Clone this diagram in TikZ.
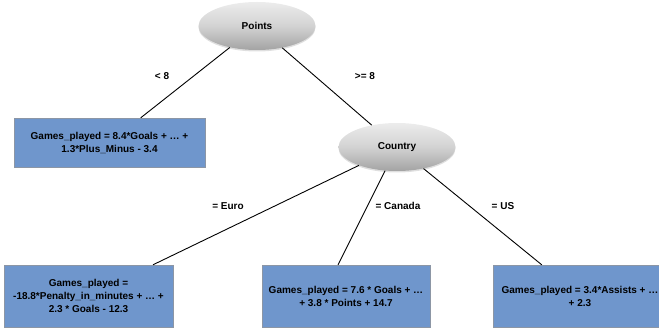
\documentclass[tikz,border=0pt]{standalone}
\usepackage{fontspec}
\setmainfont{Liberation Sans}
\usepackage{xcolor}
\usepackage{tikz}
\usetikzlibrary{shapes.geometric,shadows}
\definecolor{leafblue}{RGB}{111, 150, 204}
\definecolor{leafedge}{RGB}{140, 150, 165}

\begin{document}
\begin{tikzpicture}[x=1pt, y=-1pt,
  font=\bfseries\fontsize{10}{13}\selectfont,
  split/.style={ellipse, minimum width=117pt, minimum height=48pt, inner sep=0pt,
    top color=gray!15, bottom color=gray!72, middle color=gray!35,
    drop shadow={opacity=0.25, shadow xshift=0pt, shadow yshift=-1.5pt}},
  leaf/.style={rectangle, draw=leafedge, fill=leafblue, align=center, inner sep=0pt,
    drop shadow={opacity=0.2, shadow xshift=1pt, shadow yshift=-1pt}},
  branch/.style={line width=0.9pt}]
  \useasboundingbox (0,0) rectangle (659,331);
  \clip (0,0) rectangle (659,331);

  % Split nodes
  \node[split] (points) at (257,26) {Points};
  \node[split] (country) at (397,147) {Country};

  % Leaf models
  \node[leaf, minimum width=191pt, minimum height=49pt] (leafA) at (109.5,142.5)
    {Games\_played = 8.4*Goals + … +\\1.3*Plus\_Minus - 3.4};
  \node[leaf, minimum width=169pt, minimum height=62pt] (leafB) at (88.5,296)
    {Games\_played =\\-18.8*Penalty\_in\_minutes + … +\\2.3 * Goals - 12.3};
  \node[leaf, minimum width=168pt, minimum height=62pt] (leafC) at (346,296)
    {Games\_played = 7.6 * Goals + …\\+ 3.8 * Points + 14.7};
  \node[leaf, minimum width=174pt, minimum height=62pt] (leafD) at (580,296)
    {Games\_played = 3.4*Assists + …\\+ 2.3};

  % Branches
  \draw[branch] (points) -- (leafA);
  \draw[branch] (points) -- (country);
  \draw[branch] (country) -- (leafB);
  \draw[branch] (country) -- ([xshift=-8pt]leafC.north);
  \draw[branch] (country) -- (leafD);

  % Branch labels
  \node (lt) at (162,76) {< 8};
  \node (ge) at (365,76) {>= 8};
  \node (euro) at (228,206) {= Euro};
  \node (canada) at (398,206) {= Canada};
  \node (us) at (503,206) {= US};
\end{tikzpicture}
\end{document}
